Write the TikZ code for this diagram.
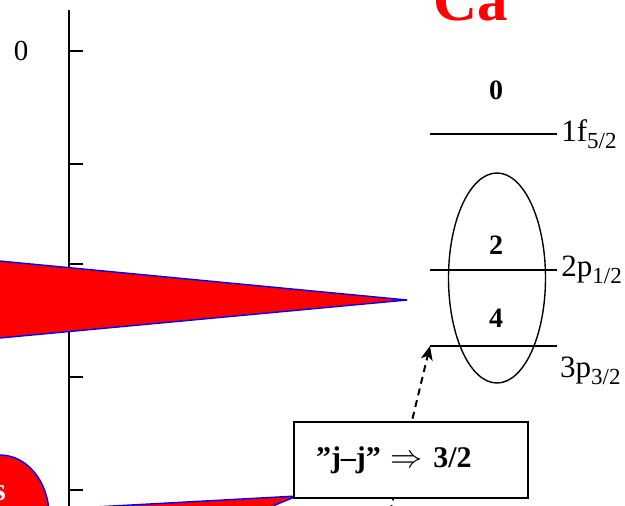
\documentclass[tikz,border=0pt]{standalone}
\usepackage{fontspec}
\setmainfont{Liberation Serif}
\usetikzlibrary{arrows.meta, positioning, shapes.geometric, calc}

\newcommand{\lsub}[1]{\raisebox{-0.22em}{\fontsize{23}{23}\selectfont #1}}

\begin{document}
\begin{tikzpicture}[
    x=1pt, y=-1pt, >={Stealth[length=14pt, width=12pt, inset=4pt]},
    level/.style={line width=2.8pt},
    lvlname/.style={right, inner sep=3pt, font=\fontsize{31}{31}\selectfont},
    occ/.style={font=\fontsize{28}{28}\selectfont\bfseries},
    callout/.style={fill=red, draw=blue, line width=1.4pt, line join=round},
    note/.style={draw, fill=white, line width=1.4pt, minimum height=76pt,
                 text width=190pt, inner xsep=22pt, align=left,
                 font=\fontsize{30}{30}\selectfont\bfseries}
  ]
  \useasboundingbox (0,0) rectangle (625,506);

  % title
  \node[anchor=base west, inner sep=0pt, text=red,
        font=\fontsize{61}{61}\selectfont\bfseries] (ca) at (433,20) {Ca};
  \node[anchor=base east, inner sep=0pt, text=red,
        font=\fontsize{40}{40}\selectfont\bfseries] (mass) at (428,-0.2) {54};

  % energy axis
  \draw[line width=1.6pt] (69,10) -- (69,520);
  \foreach \y in {51,164,264,377,490}
    \draw[line width=1.6pt] (69,\y) -- (83,\y);
  \node[font=\fontsize{29}{29}\selectfont] (zero) at (21,51) {0};

  % callouts coming from the left
  \draw[callout] (407,300) -- (-60,255.3) -- (-60,343.6) -- cycle;
  \draw[callout] (0,515) ellipse [x radius=49, y radius=60];
  \node[anchor=base east, inner sep=0pt, text=white,
        font=\fontsize{32}{32}\selectfont\bfseries] (fits) at (6,500) {s};
  \draw[callout] (297,496) -- (0,512.1) -- (215,530) -- cycle;

  % single-particle levels
  \coordinate (f52) at (430,134);
  \coordinate (p12) at (430,270);
  \coordinate (p32) at (430,346);
  \draw[level] (f52) -- ++(127,0) node[lvlname] (f52name) {1f\lsub{5/2}};
  \draw[level] (p12) -- ++(127,0) node[lvlname] (p12name) {2p\lsub{1/2}};
  \draw[level] (p32) -- ++(127,0) coordinate (p32e);
  \node[lvlname, anchor=north west] (p32name) at ($(p32e)+(0,8)$) {3p\lsub{3/2}};

  \node[occ] (n0) at (496,90) {0};
  \node[occ] (n2) at (496,245) {2};
  \node[occ] (n4) at (496,318) {4};
  \node[draw, ellipse, line width=1.4pt, minimum width=97pt,
        minimum height=210pt] (pshell) at (497,278) {};

  % coupling note
  \coordinate (jjsrc) at (390,512);
  \draw[->, line width=2pt, dash pattern=on 7pt off 5pt]
    (jjsrc) -- (p32);
  \node[note] (jj) at (411,460) {”j–j” \scalebox{1.3}{$\Rightarrow$} 3/2};
\end{tikzpicture}
\end{document}
